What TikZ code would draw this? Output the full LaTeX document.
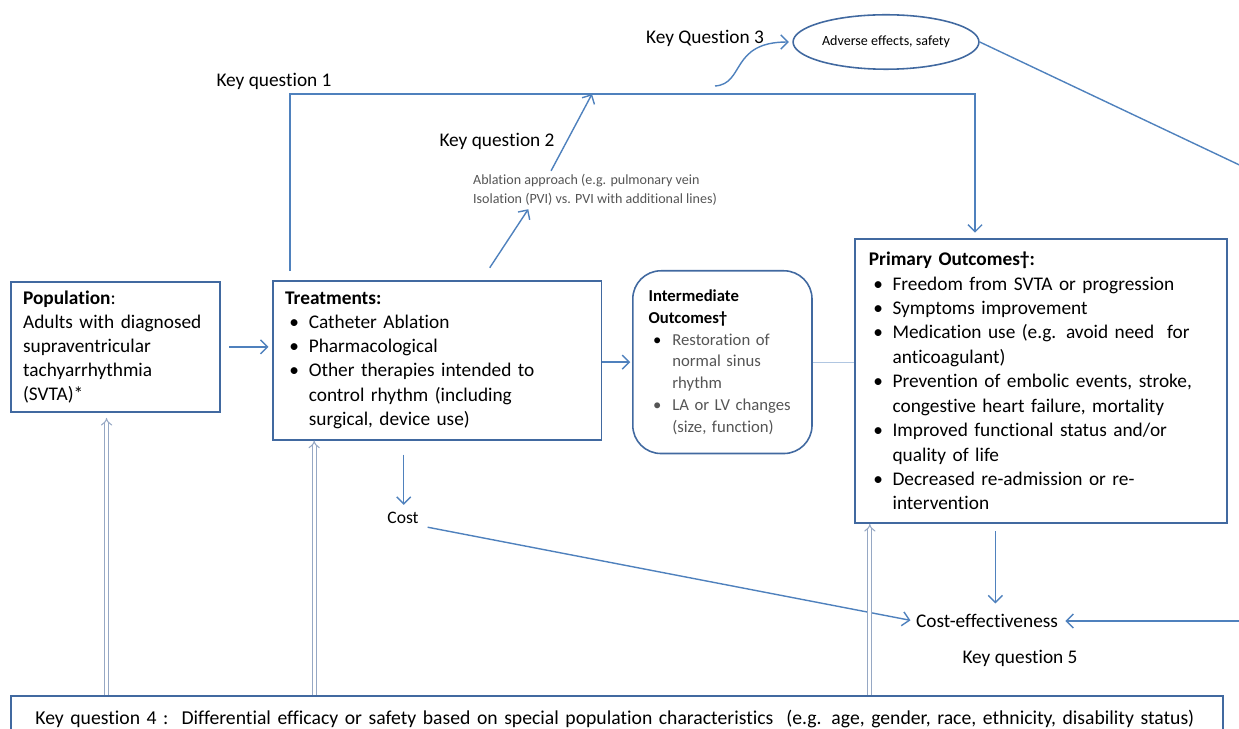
\documentclass[tikz,border=0pt]{standalone}
\usepackage{fontspec}
\setmainfont[Ligatures=CommonOff]{Carlito}
\usetikzlibrary{arrows.meta,shapes.geometric}

\definecolor{lineblue}{RGB}{79,129,189}
\definecolor{boxblue}{RGB}{65,105,160}
\definecolor{dblgray}{RGB}{150,168,196}
\definecolor{txtgray}{RGB}{85,85,85}

% bullet line with hanging indent
\newcommand{\bitem}[1]{\par\noindent\hangindent=13.5pt\hangafter=1\makebox[13.5pt][l]{\hspace{2.5pt}\textbullet}#1\par}

\tikzset{
  box/.style={draw=boxblue, line width=0.9pt, anchor=north west, align=left,
    inner xsep=7pt, inner ysep=5pt, font=\fontsize{11}{13.7}\selectfont},
  arr/.style={draw=lineblue, line width=0.8pt, -{Straight Barb[length=4pt,width=8pt]}},
  link/.style={draw=lineblue, line width=0.8pt},
  dbl/.style={draw=dblgray, double=white, double distance=1.6pt, line width=0.6pt, -Implies},
  lbl/.style={font=\fontsize{11}{13}\selectfont, inner sep=1pt}
}

\begin{document}
\begin{tikzpicture}[x=0.02cm,y=-0.02cm]
\useasboundingbox (0,0) rectangle (1239,729);

% boxes
\node[box, text width=105pt] (pop) at (10,281) {\textbf{Population}:\\Adults with diagnosed\\supraventricular\\tachyarrhythmia\\(SVTA)*};
\node[box, text width=173pt, inner ysep=6.5pt] (treat) at (272,280) {\textbf{Treatments:}
\bitem{Catheter Ablation}
\bitem{Pharmacological}
\bitem{Other therapies intended to\newline control rhythm (including\newline surgical, device use)}};
\node[box, rounded corners=16pt, text width=84pt, inner xsep=9pt, minimum height=104pt,
  font=\fontsize{9.5}{12.4}\selectfont] (inter) at (632,270) {\textbf{Intermediate\\Outcomes†}
\bitem{\color{txtgray}Restoration of\newline normal sinus\newline rhythm}
\bitem{\color{txtgray}LA or LV changes\newline (size, function)}};
\node[box, text width=196pt, inner xsep=8pt, inner ysep=7.5pt, font=\fontsize{11}{13.9}\selectfont] (prim) at (854,238) {\textbf{Primary Outcomes†:}
\bitem{Freedom from SVTA or progression}
\bitem{Symptoms improvement}
\bitem{Medication use (e.g. avoid need\ \ for\newline anticoagulant)}
\bitem{Prevention of embolic events, stroke,\newline congestive heart failure, mortality}
\bitem{Improved functional status and/or\newline quality of life}
\bitem{Decreased re-admission or re-\newline intervention}};
\node[box, text width=662pt, inner xsep=14pt, minimum height=26pt, inner ysep=6pt,
  font=\fontsize{11.2}{13}\selectfont] (kq4) at (10,695)
  {Key question 4 :\ \ Differential efficacy or safety based on special population characteristics\ \ (e.g. age, gender, race, ethnicity, disability status)};
\node[draw=boxblue, line width=0.9pt, ellipse, minimum width=100pt, minimum height=31pt, inner sep=1pt,
  font=\fontsize{8}{9}\selectfont] (adverse) at (886,42) {Adverse effects, safety};

% labels
\node[lbl] (kq1) at (274,81) {Key question 1};
\node[lbl] (kq2) at (497,141) {Key question 2};
\node[lbl] (kq3) at (705,38) {Key Question 3};
\node[lbl] (kq5) at (1020,658) {Key question 5};
\node[lbl, align=left, text=txtgray, font=\fontsize{8}{10.5}\selectfont] (ablation) at (595,190)
  {Ablation approach (e.g. pulmonary vein\\Isolation (PVI) vs. PVI with additional lines)};
\node[lbl, font=\fontsize{10}{12}\selectfont] (cost) at (403,518) {Cost};
\node[lbl] (costeff) at (987,621) {Cost-effectiveness};

\coordinate (kq1x) at (290,94);
\coordinate (kq1y) at (975,94);
\coordinate (kq2end) at (592,94);
\coordinate (kq3start) at (715,86);
\coordinate (offA) at (1250,170);
\coordinate (offB) at (1250,621);

% connectors
\draw[arr, shorten <=5pt, shorten >=2pt] (pop.east) -- (pop.east -| treat.west);
\draw[arr, shorten >=1pt] (inter.west -| treat.east) -- (inter.west);
\draw[draw=lineblue!45, thin] (inter.east) -- (inter.east -| prim.west);
\draw[arr, shorten <=5pt, shorten >=3pt] (kq1x |- treat.north) -- (kq1x) -- (kq1y) -- (kq1y |- prim.north);
\draw[arr] ([xshift=30pt,yshift=7pt]treat.north) -- ([xshift=-38pt,yshift=-1pt]ablation.south);
\draw[arr] ([xshift=-25pt,yshift=1pt]ablation.north) -- (kq2end);
\draw[arr, shorten >=2pt] (kq3start) .. controls (745,84) and (730,42) .. (adverse.west);
\draw[link] (adverse.east) -- (offA);
\draw[arr, shorten >=3pt] (offB) -- (costeff.east);
\draw[arr, shorten >=3pt] ([xshift=-19pt,yshift=-8pt]treat.south) -- ([xshift=-19pt]treat.south |- cost.north);
\draw[arr, shorten <=4pt, shorten >=2pt] (cost.south east) -- (costeff.west);
\draw[arr, shorten >=5pt] ([xshift=-26pt,yshift=-4pt]prim.south) -- ([xshift=-26pt]prim.south |- costeff.north);

% key question 4 links
\draw[dbl] ([xshift=-5pt]pop.south |- kq4.north) -- ([xshift=-5pt,yshift=-3pt]pop.south);
\draw[dbl] ([xshift=24pt]treat.south west |- kq4.north) -- ([xshift=24pt]treat.south west);
\draw[dbl] ([xshift=9pt]prim.south west |- kq4.north) -- ([xshift=9pt]prim.south west);
\end{tikzpicture}
\end{document}
